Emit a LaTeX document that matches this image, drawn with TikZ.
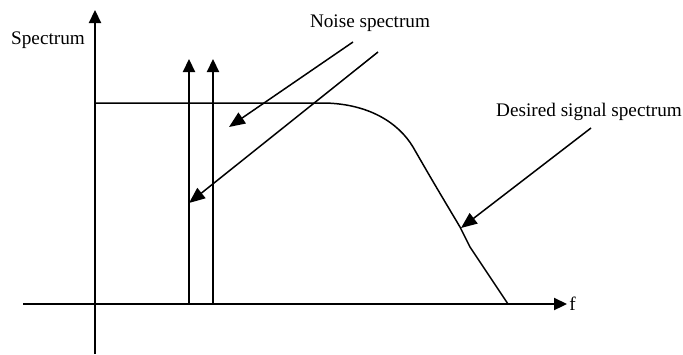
\documentclass[tikz,border=0pt]{standalone}
\usepackage{fontspec}
\setmainfont{Liberation Serif}
\usetikzlibrary{arrows.meta}
\tikzset{
  axis/.style  ={line width=1.1pt, -{Triangle[length=6.5pt, width=6pt]}},
  tone/.style  ={line width=1.1pt, -{Triangle[length=6.5pt, width=6pt]}},
  curve/.style ={line width=0.75pt, line join=round},
  ptr/.style   ={line width=0.75pt, -{Triangle[length=8pt, width=6.5pt]}},
  lbl/.style   ={font=\fontsize{9.6}{11}\selectfont, inner sep=0pt},
}

\begin{document}
\begin{tikzpicture}[x=0.5pt, y=-0.5pt]
  \useasboundingbox (0,0) rectangle (683,354);

  % ---------------- axes -----------------
  \coordinate (y-bot) at (95,354);
  \coordinate (y-top) at (95,10);
  \coordinate (x-left) at (23,304);
  \coordinate (x-right) at (567,304);
  \draw[axis] (y-bot) -- (y-top);
  \draw[axis] (x-left) -- (x-right);
  \node[lbl, anchor=west] (f-lbl) at (569,304) {f};
  \node[lbl] (spec-lbl) at (48,40) {Spectrum};

  % ---------------- noise tones -----------------
  \coordinate (n1-base) at (189,304);
  \coordinate (n1-top)  at (189,59);
  \coordinate (n2-base) at (213,304);
  \coordinate (n2-top)  at (213,59);
  \draw[tone] (n1-base) -- (n1-top);
  \draw[tone] (n2-base) -- (n2-top);

  % ---------------- desired signal -----------------
  \draw[curve] (95,103) -- (325,103)
        .. controls (368,104) and (398,122) .. (413,147)
        .. controls (432,180) .. (460,227) -- (470,247) -- (508,304);

  % ---------------- labels and pointers -----------------
  \node[lbl] (noise-lbl) at (370,23) {Noise spectrum};
  \coordinate (np1-start) at (353,42);
  \coordinate (np1-end)   at (229,127);
  \coordinate (np2-start) at (378,52);
  \coordinate (np2-end)   at (189,203);
  \draw[ptr] (np1-start) -- (np1-end);
  \draw[ptr] (np2-start) -- (np2-end);

  \node[lbl] (sig-lbl) at (589,112) {Desired signal spectrum};
  \coordinate (sp-start) at (591,128);
  \coordinate (sp-end)   at (461,228);
  \draw[ptr] (sp-start) -- (sp-end);
\end{tikzpicture}
\end{document}
